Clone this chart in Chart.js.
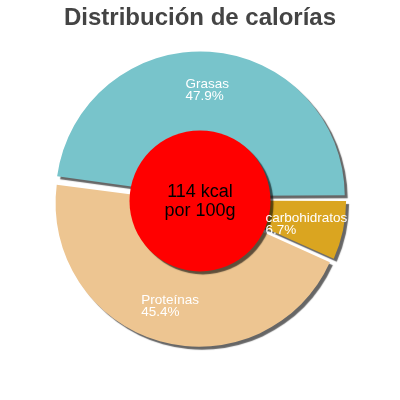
<!DOCTYPE html>
<html>
<head>
<meta charset="utf-8">
<script src="https://cdn.jsdelivr.net/npm/chart.js@4"></script>
<style>
  html, body { margin: 0; padding: 0; background: #fff; }
  #wrap { width: 400px; height: 400px; position: relative; }
</style>
</head>
<body>
<div id="wrap"><canvas id="pieChart"></canvas></div>
<script>
"use strict"

// datos del gráfico
const titleText = "Distribución de calorías";
const categories = ["Grasas", "carbohidratos", "Proteínas"];
const percentages = [47.9, 6.7, 45.4];
const centerLines = ["114 kcal", "por 100g"];

const sliceColors = ["#78c4cb", "#daa520", "#edc591"];
const sliceOffsets = [16, 13, 14];

// sombra gris bajo las porciones
const shadowPlugin = {
    id: "shadow",
    beforeDatasetsDraw(chart) {
        const ctx = chart.ctx;
        ctx.save();
        ctx.shadowColor = "rgba(0,0,0,0.6)";
        ctx.shadowBlur = 1;
        ctx.shadowOffsetX = 3;
        ctx.shadowOffsetY = 3;
    },
    afterDatasetsDraw(chart) {
        chart.ctx.restore();
    }
};

// círculo rojo del centro + textos de las porciones
const overlayPlugin = {
    id: "overlay",
    afterDraw(chart) {
        const ctx = chart.ctx;
        const arcs = chart.getDatasetMeta(0).data;
        const cx = arcs[0].x;
        const cy = arcs[0].y;
        const R = arcs[0].outerRadius;

        // círculo rojo con sombra
        ctx.save();
        ctx.shadowColor = "rgba(0,0,0,0.6)";
        ctx.shadowBlur = 1;
        ctx.shadowOffsetX = 3;
        ctx.shadowOffsetY = 3;
        ctx.beginPath();
        ctx.arc(cx, cy + 1, R * 0.5, 0, Math.PI * 2);
        ctx.fillStyle = "#ff0000";
        ctx.fill();
        ctx.restore();

        // texto del centro
        ctx.save();
        ctx.fillStyle = "#000";
        ctx.font = "18px 'Liberation Sans', Arial, sans-serif";
        ctx.textAlign = "center";
        ctx.textBaseline = "alphabetic";
        ctx.fillText(centerLines[0], cx, cy - 3);
        ctx.fillText(centerLines[1], cx, cy + 16);
        ctx.restore();

        // etiquetas de cada porción
        ctx.save();
        ctx.fillStyle = "#fff";
        ctx.font = "13.5px 'Liberation Sans', Arial, sans-serif";
        ctx.textAlign = "left";
        ctx.textBaseline = "alphabetic";
        for (let x = 0; x < arcs.length; x++) {
            const arc = arcs[x];
            const mid = (arc.startAngle + arc.endAngle) / 2;
            const circ = arc.endAngle - arc.startAngle;
            const fix = 1 - Math.sin(Math.min(Math.PI, circ));
            const shift = (arc.options.offset || 0) / 4 * (1 + fix); // igual que Chart.js
            const dist = shift + arc.outerRadius * 0.735;
            const px = cx + Math.cos(mid) * dist;
            const py = cy + Math.sin(mid) * dist;
            const lines = [categories[x], percentages[x] + "%"];
            let w = 0;
            for (let l = 0; l < lines.length; l++) {
                w = Math.max(w, ctx.measureText(lines[l]).width);
            }
            ctx.fillText(lines[0], px - w / 2, py - 1);
            ctx.fillText(lines[1], px - w / 2, py + 11);
        }
        ctx.restore();
    }
};

new Chart(document.getElementById("pieChart"), {
    type: "pie",
    data: {
        labels: categories,
        datasets: [{
            data: percentages,
            backgroundColor: sliceColors,
            offset: sliceOffsets,
            hoverOffset: 0,
            borderWidth: 0
        }]
    },
    options: {
        responsive: true,
        maintainAspectRatio: false,
        animation: false,
        events: [],
        rotation: 90 - percentages[0] * 3.6,
        radius: 141,
        layout: {
            padding: { top: 0, left: 50, right: 50, bottom: 50 }
        },
        plugins: {
            legend: { display: false },
            tooltip: { enabled: false },
            title: {
                display: true,
                text: titleText,
                color: "#444",
                font: { family: "'Liberation Sans', Arial, sans-serif", size: 24, weight: "bold" },
                padding: { top: 4, bottom: 17 }
            }
        }
    },
    plugins: [shadowPlugin, overlayPlugin]
});
</script>
</body>
</html>
